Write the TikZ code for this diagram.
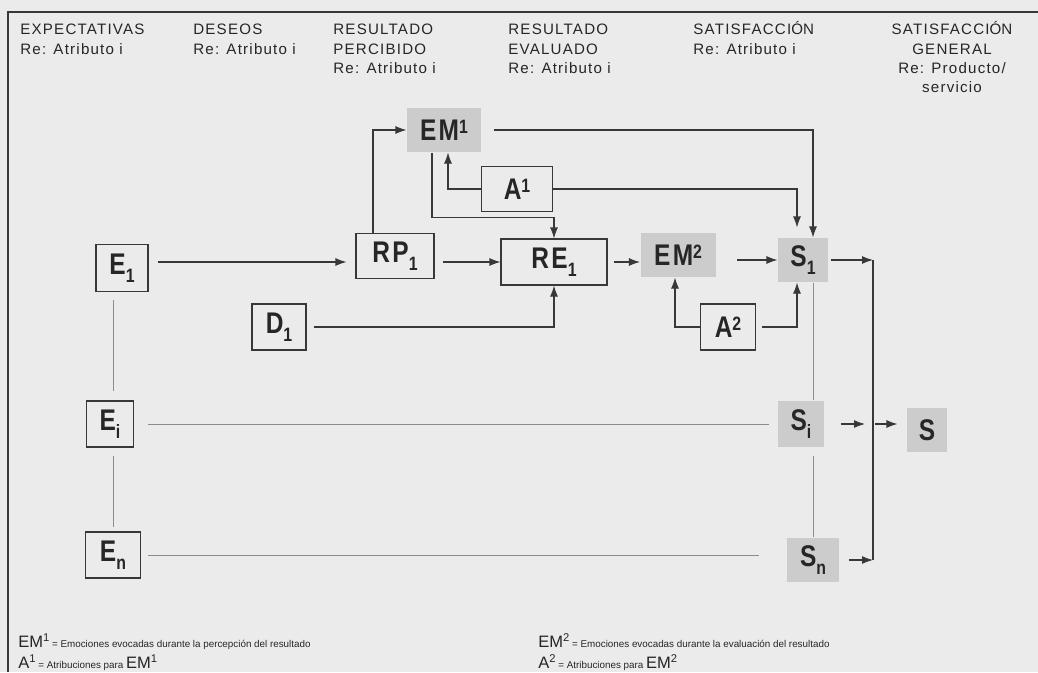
\documentclass[tikz,border=0pt]{standalone}
\usepackage{fontspec}
\setmainfont{Liberation Sans}
\newfontfamily\cabfont[LetterSpace=8]{Liberation Sans}
\newfontfamily\nodofont[FakeStretch=0.82,LetterSpace=8]{Liberation Sans}
\newfontfamily\leyfont{Liberation Sans}
\usetikzlibrary{arrows.meta, positioning}

\newcommand\bajo[1]{\raisebox{-4.5pt}{\fontsize{11}{11}\selectfont #1}}
\newcommand\alto[1]{\raisebox{4pt}{\fontsize{11}{11}\selectfont #1}}
\newcommand\grande[1]{{\fontsize{9.4}{9.4}\selectfont #1}}
\newcommand\salto[1]{\raisebox{3pt}{\fontsize{6.4}{6.4}\selectfont #1}}

\definecolor{fondo}{gray}{0.92}
\definecolor{trazo}{gray}{0.22}

\tikzset{
  medida/.style 2 args={minimum width=#1*0.2mm, minimum height=#2*0.2mm},
  caja/.style={draw=trazo, line width=0.6pt, inner sep=0pt, text=black!85,
    font=\nodofont\bfseries\fontsize{17}{17}\selectfont},
  sombra/.style={caja, draw=none, fill=black!20},
  flecha/.style={draw=trazo, line width=0.6pt, -{Latex[length=2.2mm,width=1.6mm]}},
  linea/.style={draw=trazo, line width=0.6pt},
  fina/.style={draw=black!45, line width=0.4pt},
  cab/.style={anchor=north west, inner sep=0pt, align=left, text=black!85,
    font=\cabfont\fontsize{8.6}{11}\selectfont},
  ley/.style={anchor=base west, inner sep=0pt, text=black!85,
    font=\leyfont\fontsize{5.6}{6}\selectfont},
}

\begin{document}
\begin{tikzpicture}[x=0.2mm, y=-0.2mm]
  % fondo y marco
  \fill[fondo] (0,0) rectangle (1038,672);
  \useasboundingbox (0,0) rectangle (1038,672);
  \draw[linea] (1038,12) -- (8,12) -- (8,672);

  % cabecera
  \node[cab] (cExp) at (20,24) {EXPECTATIVAS\\Re: Atributo i};
  \node[cab] (cDes) at (193,24) {DESEOS\\Re: Atributo i};
  \node[cab] (cPer) at (333,24) {RESULTADO\\PERCIBIDO\\Re: Atributo i};
  \node[cab] (cEva) at (508,24) {RESULTADO\\EVALUADO\\Re: Atributo i};
  \node[cab] (cSat) at (693,24) {SATISFACCI\smash{Ó}N\\Re: Atributo i};
  \node[cab, anchor=north, align=center] (cGen) at (952,24)
    {SATISFACCI\smash{Ó}N\\GENERAL\\Re: Producto/\\servicio};

  % nodos
  \node[caja, medida={52}{47}] (E1) at (122,268) {E\bajo{1}};
  \node[caja, medida={78}{45}] (RP1) at (395,256) {RP\bajo{1}};
  \node[sombra, medida={74}{44}] (EM1) at (444,130) {EM\alto{1}};
  \node[caja, medida={71}{45}] (A1) at (517,189) {A\alto{1}};
  \node[caja, medida={106}{46}] (RE1) at (554,262) {RE\bajo{1}};
  \node[sombra, medida={75}{44}] (EM2) at (678,255) {EM\alto{2}};
  \node[sombra, medida={50}{44}] (S1) at (803,260) {S\bajo{1}};
  \node[caja, medida={55}{46}] (A2) at (728,327) {A\alto{2}};
  \node[caja, medida={54}{46}] (D1) at (279,327) {D\bajo{1}};
  \node[caja, medida={47}{46}] (Ei) at (110,424) {E\bajo{i}};
  \node[caja, medida={55}{46}] (En) at (113,555) {E\bajo{n}};
  \node[sombra, medida={46}{46}] (Si) at (801,424) {S\bajo{i}};
  \node[sombra, medida={52}{44}] (Sn) at (813,560) {S\bajo{n}};
  \node[sombra, medida={40}{44}] (S) at (927,430) {S};
  \coordinate (bus) at (873,424);

  % flechas
  \draw[flecha, shorten <=1.8mm, shorten >=1.8mm] (E1.east |- RE1.west) -- (RP1.west |- RE1.west);
  \draw[flecha] ([xshift=-4.4mm]RP1.north) |- (EM1.west);
  \draw[flecha, shorten <=2.4mm] (EM1.east) -| ([xshift=2mm]S1.north);
  \draw[flecha] (A1.west) -| ([xshift=0.8mm]EM1.south);
  \draw[flecha, shorten >=2mm] (A1.east) -| ([xshift=-1.2mm]S1.north);
  \draw[flecha] ([xshift=-2.4mm]EM1.south) |- ([yshift=4.2mm]RE1.north) -- (RE1.north);
  \draw[flecha, shorten <=1.6mm] (RP1.east |- RE1.west) -- (RE1.west);
  \draw[flecha, shorten <=1.4mm] (D1.east) -| (RE1.south);
  \draw[flecha, shorten <=1.2mm] (RE1.east) -- (EM2.west |- RE1.east);
  \draw[flecha, shorten <=4.2mm] (EM2.east |- S1.west) -- (S1.west);
  \draw[flecha] (A2.west) -| ([xshift=-0.6mm]EM2.south);
  \draw[flecha, shorten <=1.2mm] (A2.east) -| ([xshift=-1.2mm]S1.south);

  % hacia satisfaccion general
  \draw[flecha, shorten <=0.4mm] (S1.east) -- (S1.east -| bus);
  \draw[linea] (S1.east -| bus) -- (Sn.east -| bus);
  \draw[flecha, shorten <=1.8mm] (Sn.east) -- (Sn.east -| bus);
  \draw[flecha, shorten <=3.2mm, shorten >=1.6mm] (Si.east) -- (bus);
  \draw[flecha, shorten <=0.4mm, shorten >=1.8mm] (bus) -- (bus -| S.west);

  % lineas finas
  \draw[fina, shorten <=1.6mm, shorten >=1.8mm] (E1.south -| En.north) -- (Ei.north -| En.north);
  \draw[fina, shorten <=1.6mm, shorten >=0.8mm] (Ei.south -| En.north) -- (En.north);
  \draw[fina] (S1.south -| Sn.north) -- (Si.north -| Sn.north);
  \draw[fina, shorten <=1.6mm] (Si.south -| Sn.north) -- (Sn.north);
  \draw[fina, shorten <=2.8mm, shorten >=1.6mm] (Ei.east) -- (Si.west);
  \draw[fina, shorten <=1.4mm, shorten >=5.4mm] (En.east) -- (Sn.west |- En.east);

  % leyenda
  \node[ley] (l1) at (18,647) {\grande{EM\salto{1}} = Emociones evocadas durante la percepción del resultado};
  \node[ley] (l2) at (18,668) {\grande{A\salto{1}} = Atribuciones para \grande{EM\salto{1}}};
  \node[ley] (l3) at (538,647) {\grande{EM\salto{2}} = Emociones evocadas durante la evaluación del resultado};
  \node[ley] (l4) at (538,668) {\grande{A\salto{2}} = Atribuciones para \grande{EM\salto{2}}};
\end{tikzpicture}
\end{document}
